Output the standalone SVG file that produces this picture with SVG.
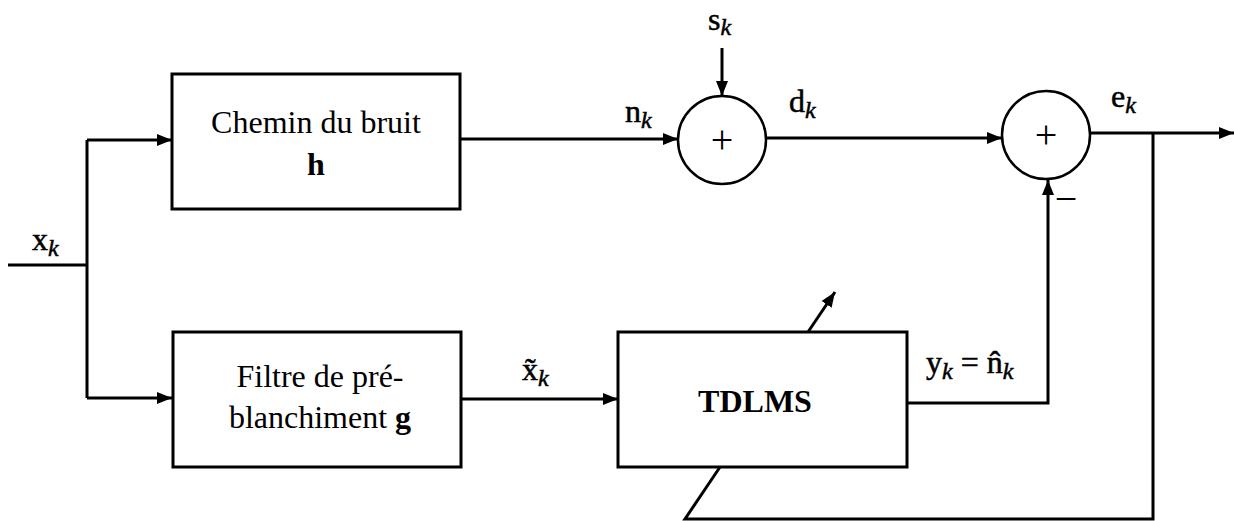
<svg xmlns="http://www.w3.org/2000/svg" width="1234" height="521" viewBox="0 0 1234 521">
<defs>
<style>
.box{fill:#fff;stroke:#000;stroke-width:3}
.sum{fill:#fff;stroke:#000;stroke-width:2.5}
.ln{fill:none;stroke:#000;stroke-width:3}
.t{font-family:"Liberation Serif","Times New Roman",serif;font-size:32px;fill:#000;text-anchor:middle}
.tb{font-family:"Liberation Serif","Times New Roman",serif;font-size:32px;font-weight:bold;fill:#000;text-anchor:middle}
.m{font-family:"Liberation Serif","Times New Roman",serif;font-size:32px;fill:#000;stroke:#000;stroke-width:0.5}
.k{font-style:italic;font-size:24px}
.op{font-family:"Liberation Serif","Times New Roman",serif;font-size:40px;fill:#000;text-anchor:middle}
</style>
<marker id="ah" markerUnits="userSpaceOnUse" markerWidth="16" markerHeight="14" refX="15" refY="6" orient="auto">
<path d="M0,0 L15,6 L0,12 Z" fill="#000"/>
</marker>
</defs>
<g id="connectors">
<path class="ln" d="M8,265 H87"/>
<path class="ln" d="M87,140 V398"/>
<path class="ln" d="M87,140 H172" marker-end="url(#ah)"/>
<path class="ln" d="M87,398 H172" marker-end="url(#ah)"/>
<path class="ln" d="M460,139 H678" marker-end="url(#ah)"/>
<path class="ln" d="M722,48 V96" marker-end="url(#ah)"/>
<path class="ln" d="M766,138 H1002" marker-end="url(#ah)"/>
<path class="ln" d="M1090,133 H1234" marker-end="url(#ah)"/>
<path class="ln" d="M1153,133 V519 H685 L720,467"/>
<path class="ln" d="M907,403 H1048 V180" marker-end="url(#ah)"/>
<path class="ln" d="M461,399 H618" marker-end="url(#ah)"/>
<path class="ln" d="M808,332 L835,292" marker-end="url(#ah)"/>
</g>
<g id="node-chemin">
<rect class="box" x="172" y="74" width="288" height="135"/>
<text class="t" x="316" y="133">Chemin du bruit</text>
<text class="tb" x="316" y="175">h</text>
</g>
<g id="node-filtre">
<rect class="box" x="173" y="332" width="288" height="135"/>
<text class="t" x="320" y="387">Filtre de pré-</text>
<text class="t" x="320" y="428">blanchiment <tspan font-weight="bold">g</tspan></text>
</g>
<g id="node-tdlms">
<rect class="box" x="618" y="332" width="289" height="135"/>
<text class="tb" x="755" y="412" font-size="30">TDLMS</text>
</g>
<g id="node-sum1">
<circle class="sum" cx="722" cy="140" r="44"/>
<text class="op" x="722" y="153">+</text>
</g>
<g id="node-sum2">
<circle class="sum" cx="1046" cy="135" r="44"/>
<text class="op" x="1046" y="148">+</text>
<text class="op" x="1066" y="212">−</text>
</g>
<g id="labels">
<text class="m" x="32" y="250">x<tspan class="k" dy="6">k</tspan></text>
<text class="m" x="625" y="122">n<tspan class="k" dy="6">k</tspan></text>
<text class="m" x="708" y="30">s<tspan class="k" dy="5">k</tspan></text>
<text class="m" x="789" y="112">d<tspan class="k" dy="6">k</tspan></text>
<text class="m" x="1111" y="107">e<tspan class="k" dy="6">k</tspan></text>
<text class="m" x="522" y="380">x̃<tspan class="k" dy="6">k</tspan></text>
<text class="m" x="926" y="373">y<tspan class="k" dy="6">k</tspan><tspan dy="-6"> = </tspan>n̂<tspan class="k" dy="6">k</tspan></text>
</g>
</svg>
